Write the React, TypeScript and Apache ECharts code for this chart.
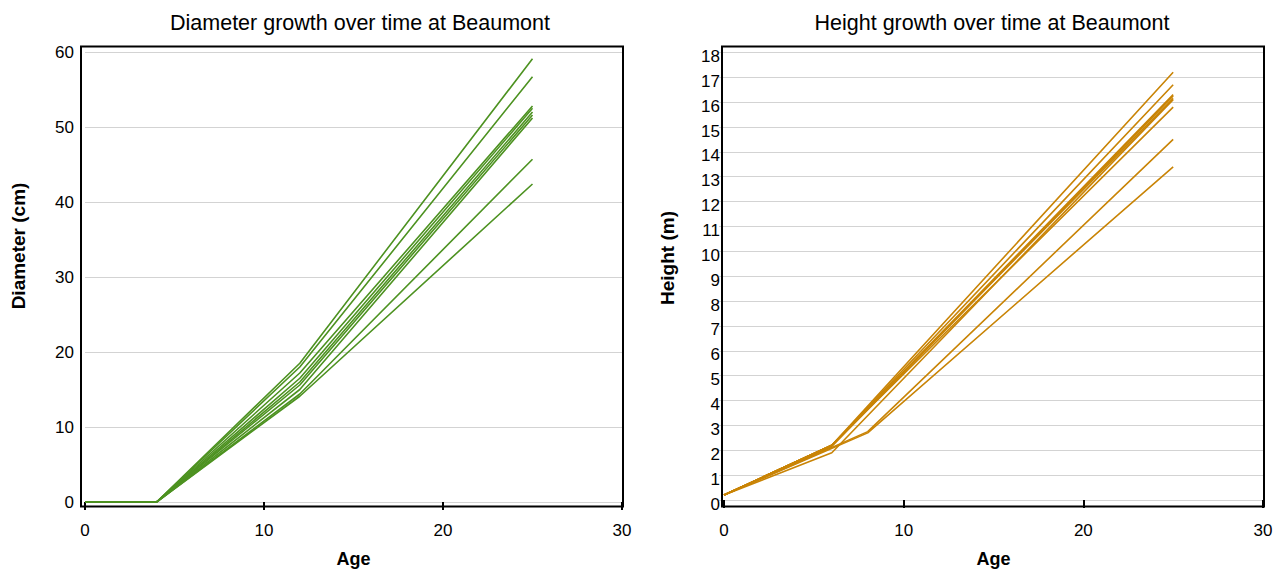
import React, { useEffect, useRef } from "react";
import * as echarts from "echarts";

const diamAges = [0, 4, 12, 25];
const diamTrees = [
  [0, 0, 18.5, 59.1],
  [0, 0, 18.0, 56.7],
  [0, 0, 17.2, 52.8],
  [0, 0, 16.5, 52.5],
  [0, 0, 16.0, 52.0],
  [0, 0, 15.6, 51.6],
  [0, 0, 15.0, 51.2],
  [0, 0, 14.4, 45.7],
  [0, 0, 14.1, 42.4],
];

const heightAges = [0, 6, 8, 25];
const heightTrees: (number | null)[][] = [
  [0.2, 2.2, null, 17.2],
  [0.2, 2.2, null, 16.7],
  [0.2, 2.2, null, 16.3],
  [0.2, 2.15, null, 16.25],
  [0.2, 2.2, null, 16.15],
  [0.2, 1.9, null, 16.1],
  [0.2, 2.2, null, 15.8],
  [0.2, null, 2.75, 14.5],
  [0.2, null, 2.7, 13.4],
];

const GREEN = "#4d9221";
const ORANGE = "#c98406";
const FONT = "Liberation Sans, Arial, sans-serif";

function pairs(ages: number[], vals: (number | null)[]) {
  const out: [number, number][] = [];
  ages.forEach((a, i) => {
    const v = vals[i];
    if (v !== null && v !== undefined) out.push([a, v]);
  });
  return out;
}

export default function App() {
  const ref = useRef<HTMLDivElement>(null);
  useEffect(() => {
    if (!ref.current) return;
    const chart = echarts.init(ref.current, undefined, { renderer: "svg" });
    const labelStyle = { color: "#000", fontSize: 17, fontFamily: FONT };
    const xAxisCommon = (gridIndex: number, offset: number) => ({
      type: "value",
      gridIndex,
      min: 0,
      max: 30,
      interval: 10,
      offset,
      axisLine: { show: false },
      axisTick: { show: true, length: 8, lineStyle: { color: "#000", width: 2 } },
      axisLabel: { ...labelStyle, margin: 15 },
      splitLine: { show: false },
      name: "Age",
      nameLocation: "middle",
      nameGap: 43,
      nameTextStyle: { color: "#000", fontSize: 18, fontWeight: "bold", fontFamily: FONT },
    });
    const series: any[] = [];
    diamTrees.forEach((t, i) =>
      series.push({
        type: "line",
        name: "d" + i,
        xAxisIndex: 0,
        yAxisIndex: 0,
        data: pairs(diamAges, t),
        symbol: "none",
        lineStyle: { color: GREEN, width: 1.6 },
        itemStyle: { color: GREEN },
      })
    );
    heightTrees.forEach((t, i) =>
      series.push({
        type: "line",
        name: "h" + i,
        xAxisIndex: 1,
        yAxisIndex: 1,
        data: pairs(heightAges, t),
        symbol: "none",
        lineStyle: { color: ORANGE, width: 1.6 },
        itemStyle: { color: ORANGE },
      })
    );
    const titleStyle = { color: "#000", fontSize: 21.5, fontWeight: "normal", fontFamily: FONT };
    chart.setOption({
      animation: false,
      backgroundColor: "#fff",
      title: [
        {
          text: "Diameter growth over time at Beaumont",
          left: 355,
          top: 7,
          textAlign: "center",
          textStyle: titleStyle,
        },
        {
          text: "Height growth over time at Beaumont",
          left: 987,
          top: 7,
          textAlign: "center",
          textStyle: titleStyle,
        },
      ],
      grid: [
        {
          left: 85,
          right: 1282 - 622,
          top: 52,
          bottom: 573 - 502,
          outerBoundsMode: "none",
          containLabel: false,
        },
        {
          left: 724,
          right: 1282 - 1263,
          top: 52.4,
          bottom: 573 - 500,
          outerBoundsMode: "none",
          containLabel: false,
        },
      ],
      xAxis: [xAxisCommon(0, 4.5), xAxisCommon(1, 6.5)],
      yAxis: [
        {
          type: "value",
          gridIndex: 0,
          min: 0,
          max: 60,
          interval: 10,
          offset: 4,
          axisLine: { show: false },
          axisTick: { show: false },
          axisLabel: { ...labelStyle, margin: 7 },
          splitLine: { show: true, lineStyle: { color: "#d3d3d3", width: 1 } },
        },
        {
          type: "value",
          gridIndex: 1,
          min: 0,
          max: 18,
          interval: 1,
          offset: 2,
          axisLine: { show: false },
          axisTick: { show: true, length: 5, lineStyle: { color: "#d3d3d3", width: 1 } },
          axisLabel: { ...labelStyle, margin: 2, verticalAlign: "top", lineHeight: 8 },
          splitLine: { show: true, lineStyle: { color: "#d3d3d3", width: 1 } },
        },
      ],
      graphic: [
        {
          type: "rect",
          shape: { x: 81, y: 46.5, width: 542, height: 460 },
          style: { fill: "none", stroke: "#000", lineWidth: 2 },
          z: 100,
          silent: true,
        },
        {
          type: "rect",
          shape: { x: 722, y: 46.5, width: 542, height: 460 },
          style: { fill: "none", stroke: "#000", lineWidth: 2 },
          z: 100,
          silent: true,
        },
        {
          type: "text",
          x: 18,
          y: 246,
          rotation: Math.PI / 2,
          style: {
            text: "Diameter (cm)",
            fill: "#000",
            fontSize: 19,
            fontWeight: "bold",
            fontFamily: FONT,
            align: "center",
            verticalAlign: "middle",
          },
        },
        {
          type: "text",
          x: 667,
          y: 258,
          rotation: Math.PI / 2,
          style: {
            text: "Height (m)",
            fill: "#000",
            fontSize: 19,
            fontWeight: "bold",
            fontFamily: FONT,
            align: "center",
            verticalAlign: "middle",
          },
        },
      ],
      series,
    });
    return () => chart.dispose();
  }, []);
  return (
    <div
      ref={ref}
      style={{ position: "fixed", left: 0, top: 0, width: 1282, height: 573, background: "#fff" }}
    />
  );
}
